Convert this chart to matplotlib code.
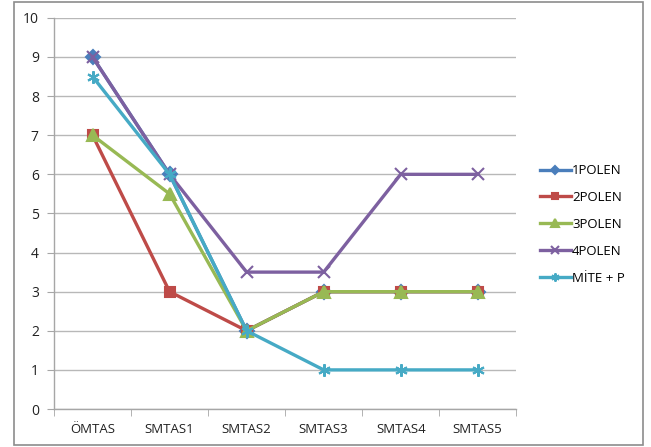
import numpy as np
import matplotlib
matplotlib.use('Agg')
import matplotlib.pyplot as plt
from matplotlib.patches import Rectangle

plt.rcParams['font.family'] = ['Open Sans', 'DejaVu Sans']

categories = ['ÖMTAS', 'SMTAS1', 'SMTAS2', 'SMTAS3', 'SMTAS4', 'SMTAS5']
polen1 = [9, 6, 2, 3, 3, 3]
polen2 = [7, 3, 2, 3, 3, 3]
polen3 = [7, 5.5, 2, 3, 3, 3]
polen4 = [9, 6, 3.5, 3.5, 6, 6]
mite_p = [8.5, 6, 2, 1, 1, 1]

series = [
    ('1POLEN', polen1, '#4a7ebb', 'D', 7),
    ('2POLEN', polen2, '#be4b48', 's', 7),
    ('3POLEN', polen3, '#98b954', '^', 8),
    ('4POLEN', polen4, '#7d60a0', 'x', 8),
    ('MİTE + P', mite_p, '#46aac5', (6, 2, 0), 9),
]

my_dpi = 100
fig = plt.figure(figsize=(651 / my_dpi, 447 / my_dpi), dpi=my_dpi)
ax = fig.add_axes([0.083, 0.085, 0.710, 0.875])

x = np.arange(len(categories))
for name, vals, clr, mk, ms in series:
    ax.plot(x, vals, color=clr, linewidth=2.4, marker=mk, markersize=ms,
            markeredgewidth=1.5, markeredgecolor=clr, label=name)

ax.set_xlim(-0.5, len(categories) - 0.5)
ax.set_ylim(0, 10)
ax.set_yticks(range(0, 11))
ax.set_xticks(x)
ax.set_xticklabels(categories)
ax.set_xticks(np.arange(-0.5, len(categories)), minor=True)

ax.yaxis.grid(True, color='#b8b8b8', linewidth=1.0)
ax.set_axisbelow(True)
for s in ['top', 'right']:
    ax.spines[s].set_visible(False)
for s in ['left', 'bottom']:
    ax.spines[s].set_color('#a6a6a6')
    ax.spines[s].set_linewidth(1.0)

ax.tick_params(axis='y', colors='#a6a6a6', length=5, labelcolor='#222222',
               labelsize=10, pad=6)
ax.tick_params(axis='x', which='major', length=0, labelcolor='#222222',
               labelsize=9.5, pad=10)
ax.tick_params(axis='x', which='minor', length=5, color='#a6a6a6')

leg = ax.legend(loc='center left', bbox_to_anchor=(1.025, 0.472), frameon=False,
                fontsize=9.5, labelspacing=1.05, handlelength=2.35,
                handletextpad=0.1, markerscale=0.65)

# chart frame
fig.patches.append(Rectangle((14 / 651, 2 / 447), 629 / 651, 443 / 447,
                             transform=fig.transFigure, fill=False,
                             edgecolor='#8c8c8c', linewidth=1.2))

fig.savefig('out.png', dpi=my_dpi)
